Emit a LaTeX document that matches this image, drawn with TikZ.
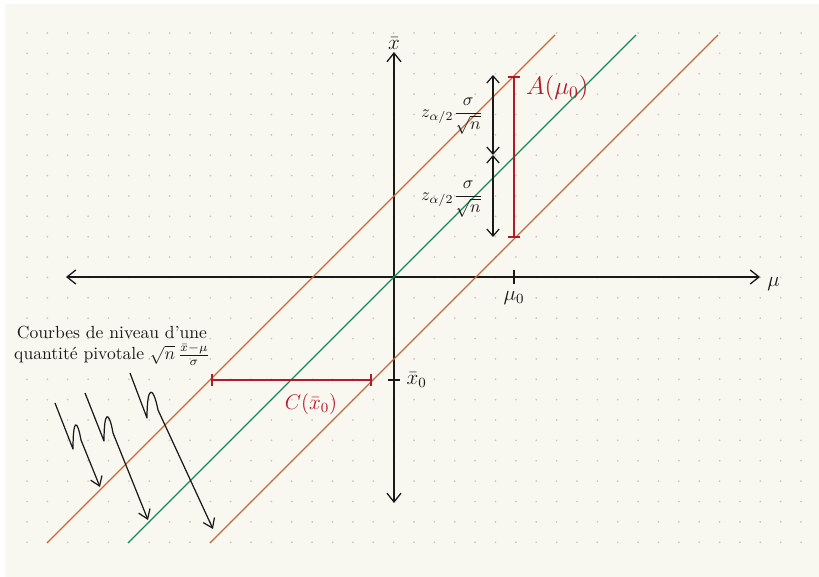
\documentclass[tikz,border=0pt]{standalone}
\usepackage{amsmath}
\usepackage{tikz}
\usetikzlibrary{arrows.meta, positioning, calc}
\definecolor{mypaper}{RGB}{249,248,240}
\definecolor{mydot}{RGB}{200,200,192}
\definecolor{mydark}{RGB}{25,25,25}
\definecolor{myorange}{RGB}{200,105,60}
\definecolor{mygreen}{RGB}{25,140,95}
\definecolor{myred}{RGB}{180,25,40}
\tikzset{
  axis/.style={{Straight Barb[length=5pt,width=8pt]}-{Straight Barb[length=5pt,width=8pt]}, line width=0.75pt, color=mydark},
  dimarrow/.style={{Straight Barb[length=4pt,width=7pt]}-{Straight Barb[length=4pt,width=7pt]}, line width=0.7pt, color=mydark},
  zigarrow/.style={-{Straight Barb[length=5pt,width=7pt]}, line width=0.7pt, color=mydark, line join=round},
  redbar/.style={{Bar[width=7pt]}-{Bar[width=7pt]}, line width=0.9pt, color=myred},
  level/.style={line width=0.7pt},
  tick/.style={line width=0.75pt, color=mydark},
  lbl/.style={font=\large, text=mydark, inner sep=1pt},
  redlbl/.style={font=\Large, text=myred, inner sep=1pt}
}

\begin{document}
\begin{tikzpicture}[x=0.02cm, y=-0.02cm]
  \useasboundingbox (0,0) rectangle (819,577);
  \fill[white] (0,0) rectangle (819,577);
  \fill[mypaper] (5,4) rectangle (819,577);

  % dotted paper
  \foreach \i in {0,...,38} {
    \foreach \j in {0,...,25} {
      \fill[mydot] (27+20.37*\i, 33+20.37*\j) circle (0.55pt);
    }
  }

  % axes
  \coordinate (muleft) at (66,277);
  \coordinate (muright) at (760,277);
  \coordinate (xtop) at (394,52);
  \coordinate (xbot) at (394,503);
  \draw[axis] (muleft) -- (muright);
  \draw[axis] (xbot) -- (xtop);
  \node[lbl, right=3pt of muright, yshift=-4pt] (mulbl) {$\mu$};
  \node[lbl, above=0pt of xtop] (xlbl) {$\bar{x}$};

  % level lines x + y = c
  \foreach \c/\col in {590/myorange, 671/mygreen, 753/myorange} {
    \draw[level, color=\col] (\c-543,543) -- (\c-35,35);
  }

  % mu_0 and A(mu_0)
  \coordinate (muzero) at (514,277);
  \draw[tick] ($(muzero)+(0,-7)$) -- ($(muzero)+(0,7)$);
  \node[lbl, below=7pt of muzero] (muzerolbl) {$\mu_0$};
  \coordinate (atop) at (514,76);
  \coordinate (abot) at (514,238);
  \draw[redbar] (atop) -- (abot);
  \node[redlbl, anchor=west] (albl) at (524,88) {$A(\mu_0)$};

  % half widths
  \coordinate (dtop) at (493,75);
  \coordinate (dmid) at (493,155);
  \coordinate (dbot) at (493,237);
  \draw[dimarrow] (dtop) -- (dmid);
  \draw[dimarrow] (dmid) -- (dbot);
  \node[lbl, font=\normalsize] (zup) at (452,116) {$z_{\alpha/2}\dfrac{\sigma}{\sqrt{n}}$};
  \node[lbl, font=\normalsize] (zdown) at (452,199) {$z_{\alpha/2}\dfrac{\sigma}{\sqrt{n}}$};

  % x_0 and C(x_0)
  \coordinate (xzero) at (394,380);
  \draw[tick] ($(xzero)+(-6,0)$) -- ($(xzero)+(6,0)$);
  \node[lbl, right=6pt of xzero] (xzerolbl) {$\bar{x}_0$};
  \coordinate (cleft) at (211,380);
  \coordinate (cright) at (372,380);
  \draw[redbar] (cleft) -- (cright);
  \node[redlbl, font=\large] (clbl) at (311,404) {$C(\bar{x}_0)$};

  % pivotal quantity
  \node[lbl, align=center, font=\normalsize] (pivot) at (112,346)
    {Courbes de niveau d'une\\quantité pivotale $\sqrt{n}\,\frac{\bar{x}-\mu}{\sigma}$};
  \coordinate (zsone) at (55,403);
  \coordinate (zvone) at (73,449);
  \coordinate (zpone) at (81,440);
  \coordinate (zeone) at (100,487);
  \coordinate (zstwo) at (85,393);
  \coordinate (zvtwo) at (104,441);
  \coordinate (zptwo) at (113,433);
  \coordinate (zetwo) at (148,520);
  \coordinate (zsthree) at (130,373);
  \coordinate (zvthree) at (147,418);
  \coordinate (zpthree) at (158,410);
  \coordinate (zethree) at (213,529);
  \draw[zigarrow] (zsone) -- (zvone) .. controls +(0,-30) and +(-4,-22) .. (zpone) -- (zeone);
  \draw[zigarrow] (zstwo) -- (zvtwo) .. controls +(0,-31) and +(-4,-23) .. (zptwo) -- (zetwo);
  \draw[zigarrow] (zsthree) -- (zvthree) .. controls +(0,-33) and +(-5,-25) .. (zpthree) -- (zethree);
\end{tikzpicture}
\end{document}
